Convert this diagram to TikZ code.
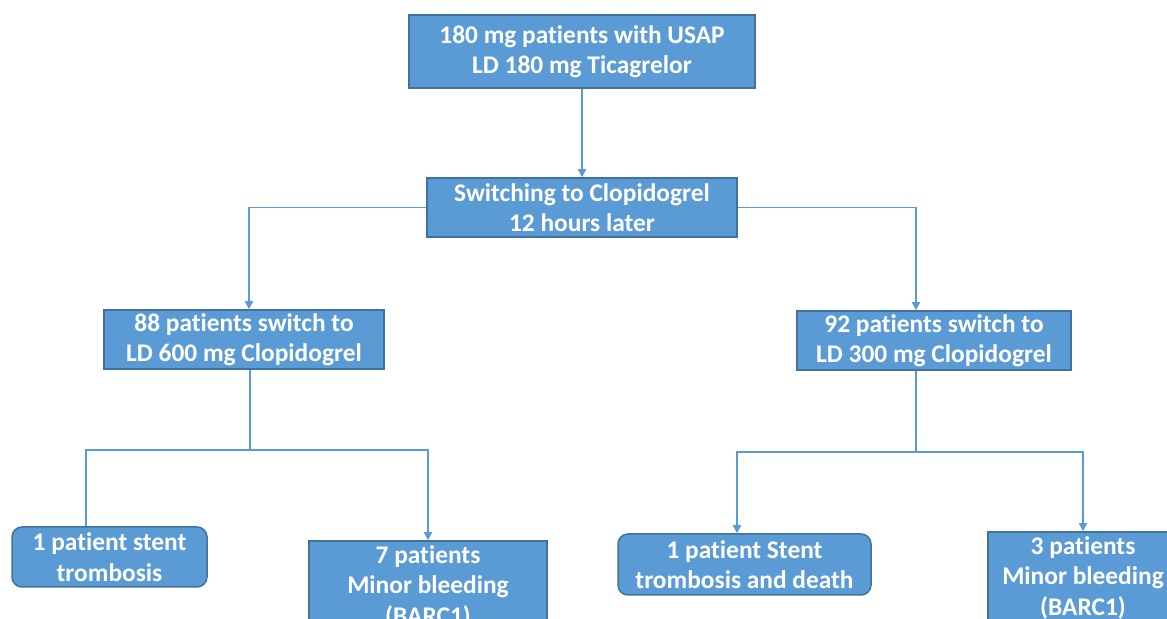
\documentclass[tikz,border=0pt]{standalone}
\usepackage{fontspec}
\setmainfont[Ligatures=NoCommon]{Carlito}
\usepackage{tikz}
\usetikzlibrary{arrows.meta, positioning}
\definecolor{flowblue}{HTML}{5B9BD5}
\definecolor{edgeblue}{HTML}{41719C}
\tikzset{
    box/.style={rectangle, draw=edgeblue, line width=0.75pt, fill=flowblue, text=white, align=center, inner sep=1pt,
        font=\fontsize{12.7}{15.2}\selectfont\bfseries},
    roundbox/.style={box, rounded corners=5pt},
    link/.style={draw=flowblue, line width=0.75pt},
    arrow/.style={link, -{Triangle[length=4pt, width=4pt]}}
}
\begin{document}
\begin{tikzpicture}[x=0.5pt, y=-0.5pt]
        \useasboundingbox (0,0) rectangle (1167,619);
        \node[box, minimum width=173pt, minimum height=36.5pt] (start) at (582,51.5) {
            180 mg patients with USAP\\LD 180 mg Ticagrelor
        };
        \node[box, minimum width=155pt, minimum height=29.5pt] (switch) at (582,207.5) {
            Switching to Clopidogrel\\12 hours later
        };
        \node[box, minimum width=140pt, minimum height=29.5pt] (high) at (244,339.5) {
            88 patients switch to\\LD 600 mg Clopidogrel
        };
        \node[box, minimum width=137pt, minimum height=29.5pt] (low) at (934,340.5) {
            92 patients switch to\\LD 300 mg Clopidogrel
        };
        \node[roundbox, minimum width=97.5pt, minimum height=30pt] (highstent) at (109.5,557) {
            1 patient stent\\trombosis
        };
        \node[box, minimum width=119pt, minimum height=46pt] (highbleed) at (428,587) {
            7 patients\\Minor bleeding\\(BARC1)
        };
        \node[roundbox, minimum width=126.5pt, minimum height=30.5pt] (lowstent) at (744.5,564.5) {
            1 patient Stent\\trombosis and death
        };
        \node[box, minimum width=95pt, minimum height=46pt] (lowbleed) at (1083,578) {
            3 patients\\Minor bleeding\\(BARC1)
        };
        \coordinate (highsplit) at (250,450);
        \coordinate (lowsplit) at (916,452);
        \draw[arrow] (start) -- (switch);
        \draw[arrow] (switch.west) -| ([xshift=2.5pt]high.north);
        \draw[arrow] (switch.east) -| ([xshift=-9pt]low.north);
        \draw[link] ([xshift=3pt]high.south) -- (highsplit);
        \draw[link] (highsplit) -| ([xshift=-11.75pt]highstent.north);
        \draw[arrow] (highsplit) -| (highbleed.north);
        \draw[link] ([xshift=-9pt]low.south) -- (lowsplit);
        \draw[arrow] (lowsplit) -| ([xshift=-3.75pt]lowstent.north);
        \draw[arrow] (lowsplit) -| (lowbleed.north);
    \end{tikzpicture}
\end{document}
